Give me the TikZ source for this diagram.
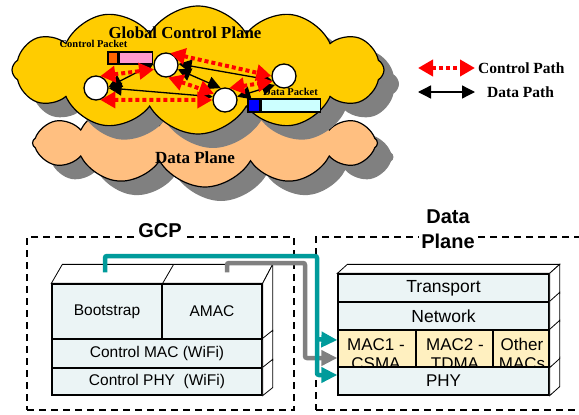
\documentclass[tikz,border=0pt]{standalone}
\usepackage{fontspec}
\setmainfont{Liberation Serif}
\setsansfont{Liberation Sans}
\usetikzlibrary{shapes.symbols,arrows.meta,calc}
\definecolor{cloudyellow}{HTML}{FFCC00}
\definecolor{cloudpeach}{HTML}{FFBF80}
\definecolor{shadowgray}{HTML}{808080}
\definecolor{pktorange}{HTML}{FF6600}
\definecolor{pktpink}{HTML}{FF99CC}
\definecolor{pktblue}{HTML}{0000FF}
\definecolor{pktcyan}{HTML}{CCFFFF}
\definecolor{tealline}{HTML}{009B9B}
\definecolor{layerfill}{HTML}{EBF4F5}
\definecolor{macfill}{HTML}{FFF0C0}
\begin{document}
\begin{tikzpicture}[x=1pt,y=-1pt,
  cloudbase/.style={cloud, cloud puffs=12, cloud puff arc=120, cloud ignores aspect, inner sep=0pt},
  cloudshape/.style={cloudbase, draw=black, line width=1.2pt},
  shadowcloud/.style={cloudbase, fill=shadowgray, draw=none},
  router/.style={circle, draw=black, line width=1.3pt, fill=white, minimum size=24pt, inner sep=0pt},
  ctrlpath/.style={red, line width=4pt, dash pattern=on 4pt off 3pt, {Triangle[length=15pt,width=16pt]}-{Triangle[length=15pt,width=16pt]}},
  datapath/.style={black, line width=1.3pt, {Triangle[length=13pt,width=13pt]}-{Triangle[length=13pt,width=13pt]}},
  pkt/.style={draw=black, line width=1.5pt, inner sep=0pt},
  toplbl/.style={font=\bfseries\fontsize{10.5}{12}\selectfont, inner sep=0pt},
  legendlbl/.style={font=\bfseries\fontsize{15.5}{17}\selectfont, inner sep=0pt, anchor=west},
  layer/.style={draw=black, line width=1.3pt, fill=layerfill, inner sep=0pt, font=\sffamily\fontsize{15.5}{17}\selectfont},
  dlayer/.style={layer, font=\sffamily\fontsize{17.5}{19}\selectfont},
  maccell/.style={draw=black, line width=1.3pt, fill=macfill, inner sep=0pt},
  mactext/.style={font=\sffamily\fontsize{17}{19}\selectfont, align=center, inner sep=0pt},
  face/.style={draw=black, line width=0.8pt, fill=white},
  dashbox/.style={draw=black, line width=1.3pt, dash pattern=on 7pt off 5pt, inner sep=0pt},
  boxlbl/.style={font=\sffamily\bfseries\fontsize{20}{25}\selectfont, fill=white, align=center, inner sep=2pt},
  tealarrow/.style={draw=tealline, line width=4.5pt, rounded corners=2pt, -{Triangle[length=16pt,width=15pt]}},
  grayarrow/.style={draw=shadowgray, line width=4.5pt, rounded corners=2pt, -{Triangle[length=16pt,width=15pt]}}
]
\useasboundingbox (0,0) rectangle (579,415);

% ---------- clouds ----------
\node[shadowcloud, minimum width=345pt, minimum height=88pt] (dpshadow) at (221,157) {};
\node[cloudshape, fill=cloudpeach, minimum width=345pt, minimum height=88pt] (dpcloud) at (205,143) {};
\node[shadowcloud, minimum width=372pt, minimum height=128pt] (gcshadow) at (213,84) {};
\node[cloudshape, fill=cloudyellow, minimum width=372pt, minimum height=128pt] (gccloud) at (198,70) {};

\node[font=\bfseries\fontsize{17}{19}\selectfont, inner sep=0pt] (dplbl) at (195,158) {Data Plane};
\node[font=\bfseries\fontsize{16.8}{18}\selectfont, inner sep=0pt] (gclbl) at (185,33) {Global Control Plane};

% packets
\node[toplbl] (cplbl) at (93.5,44) {Control Packet};
\node[pkt, fill=pktorange, minimum width=10pt, minimum height=12pt] (cpo) at (113,58) {};
\node[pkt, fill=pktpink, minimum width=33pt, minimum height=12pt, anchor=west] (cpp) at (cpo.east) {};
\node[toplbl] (dplbl2) at (290.5,92) {Data Packet};
\node[pkt, fill=pktblue, minimum width=12pt, minimum height=13pt] (dpb) at (254,105.5) {};
\node[pkt, fill=pktcyan, minimum width=59pt, minimum height=13pt, anchor=west] (dpc) at (dpb.east) {};

% routers
\node[router] (n1) at (96,88) {};
\node[router] (n2) at (166,65) {};
\node[router] (n3) at (225,100) {};
\node[router] (n4) at (284,76) {};

% data paths
\draw[datapath] (n1.5) -- (n2.175);
\draw[datapath] (n1.0) -- (n3.165);
\draw[datapath] (n2.-20) -- (n3.110);
\draw[datapath] (n2.5) -- (n4.200);
\draw[datapath] (n3.15) -- (n4.225);
% control paths
\draw[ctrlpath] (n1.70) -- (n2.200);
\draw[ctrlpath] (n1.-70) -- (n3.180);
\draw[ctrlpath] (n2.-80) -- (n3.150);
\draw[ctrlpath] (n2.70) -- (n4.180);
\draw[ctrlpath] (n3.70) -- (n4.205);

% legend
\coordinate (lc1) at (418,68);
\coordinate (lc2) at (475,68);
\coordinate (ld1) at (418,92);
\coordinate (ld2) at (475,92);
\draw[ctrlpath] (lc1) -- (lc2);
\draw[datapath] (ld1) -- (ld2);
\node[legendlbl] (lgc) at (478,68) {Control Path};
\node[legendlbl] (lgd) at (487,92) {Data Path};

% ---------- dashed boxes ----------
\node[dashbox, minimum width=267pt, minimum height=173pt] (gcpbox) at (160.5,323.5) {};
\node[boxlbl] (gcplbl) at (160,231) {GCP};
\node[dashbox, minimum width=280pt, minimum height=173pt] (dpbox) at (456,323.5) {};
\node[boxlbl] (dpboxlbl) at (448,229.5) {Data\\Plane};

% ---------- GCP stack ----------
\node[layer, minimum width=110pt, minimum height=55pt] (bs) at (107,311.5) {Bootstrap};
\node[layer, minimum width=100pt, minimum height=55pt] (am) at (212,311.5) {AMAC};
\node[layer, minimum width=210pt, minimum height=29pt] (cmac) at (157,353.5) {Control MAC (WiFi)};
\node[layer, minimum width=210pt, minimum height=27pt] (cphy) at (157,381.5) {Control PHY\ \ (WiFi)};
\draw[face] (bs.north west) -- ++(11,-19) -- ($(am.north east)+(10,-19)$) -- (am.north east) -- cycle;
\draw[face] (bs.north east) -- ++(11,-19);
\draw[face] (am.north east) -- ++(10,-19) -- ($(am.south east)+(10,-8)$) -- (am.south east) -- cycle;
\draw[face] (cmac.north east) -- ++(10,-8) -- ($(cmac.south east)+(10,-8)$) -- (cmac.south east) -- cycle;
\draw[face] (cphy.north east) -- ++(10,-8) -- ($(cphy.south east)+(10,-8)$) -- (cphy.south east) -- cycle;
\draw[black, line width=1.3pt] (bs.north west) rectangle (am.south east);
\draw[black, line width=1.3pt] (bs.north east) -- (bs.south east);

% ---------- Data plane stack ----------
\node[dlayer, minimum width=211pt, minimum height=28pt] (tr) at (443.5,288) {Transport};
\node[dlayer, minimum width=211pt, minimum height=28pt] (nw) at (443.5,316) {Network};
\node[maccell, minimum width=78pt, minimum height=37pt] (m1) at (377,348.5) {};
\node[maccell, minimum width=77pt, minimum height=37pt] (m2) at (454.5,348.5) {};
\node[maccell, minimum width=56pt, minimum height=37pt] (m3) at (521,348.5) {};
\node[dlayer, font=\sffamily\fontsize{17}{19}\selectfont, minimum width=211pt, minimum height=28pt] (phy) at (443.5,381) {PHY};
\begin{scope}
\clip (m1.south west) rectangle (m3.north east);
\node[mactext] (t1) at (376,354) {MAC1 -\\CSMA};
\node[mactext] (t2) at (455,354) {MAC2 -\\TDMA};
\node[mactext] (t3) at (522,354) {Other\\MACs};
\end{scope}
\draw[face] (tr.north west) -- ++(10,-9) -- ($(tr.north east)+(10,-9)$) -- (tr.north east) -- cycle;
\foreach \L in {tr,nw,phy}{
  \draw[face] (\L.north east) -- ++(10,-9) -- ($(\L.south east)+(10,-9)$) -- (\L.south east) -- cycle;
}
\draw[face] (m3.north east) -- ++(10,-9) -- ($(m3.south east)+(10,-9)$) -- (m3.south east) -- cycle;
\draw[black, line width=1.3pt] (m1.north west) rectangle (m3.south east);

% ---------- connectors ----------
\coordinate (gtop) at (305,263);
\coordinate (ttop) at (317,256);
\draw[grayarrow] ([xshift=15pt,yshift=11pt]am.north) |- (gtop) |- ([yshift=-9.5pt]m1.west);
\draw[tealarrow] ([xshift=-2pt,yshift=11pt]bs.north) |- (ttop) |- ([yshift=6pt]phy.west);
\draw[tealarrow] (ttop |- m1.north) ++(0,10) -- ([yshift=8.5pt]m1.west);
\end{tikzpicture}
\end{document}
